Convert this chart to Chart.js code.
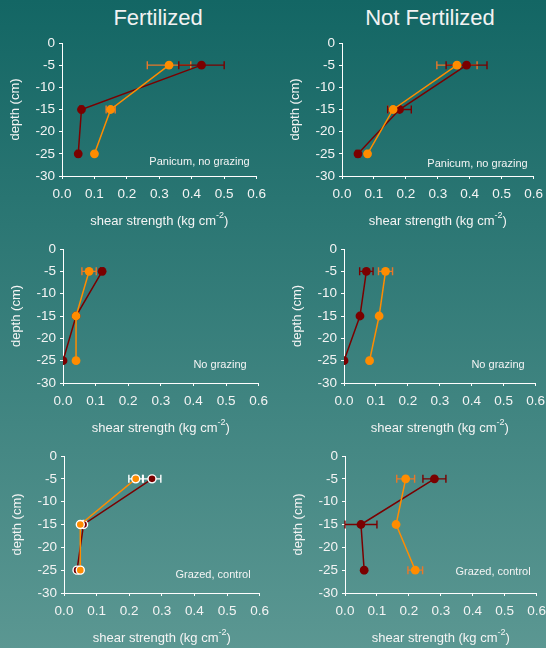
<!DOCTYPE html>
<html>
<head>
<meta charset="utf-8">
<script src="https://cdn.jsdelivr.net/npm/chart.js@4"></script>
<style>
html, body { margin: 0; padding: 0; }
body {
	width: 546px; height: 648px; overflow: hidden; position: relative;
	background: linear-gradient(#136664, #5b9792);
	font-family: 'Liberation Sans', Arial, sans-serif;
}
.col { position: absolute; top: 5px; font-size: 22px; color: #f2f2f2; transform: translateX(-50%); white-space: nowrap; }
canvas { position: absolute; }
</style>
</head>
<body>
<div class="col" style="left:158px">Fertilized</div>
<div class="col" style="left:430px">Not Fertilized</div>

<canvas id="c1"></canvas>
<canvas id="c2"></canvas>
<canvas id="c3"></canvas>
<canvas id="c4"></canvas>
<canvas id="c5"></canvas>
<canvas id="c6"></canvas>

<script>
// depth of each measurement (cm)
const depths = [-5, -15, -25];

// panel notes
const notes = ['Panicum, no grazing', 'Panicum, no grazing', 'No grazing', 'No grazing', 'Grazed, control', 'Grazed, control'];

// shear strength (kg cm-2) and error, per panel: dark red series and orange series
const p1Red = [0.43, 0.06, 0.05],     p1RedErr = [0.07, 0.005, 0.005];
const p1Orange = [0.33, 0.15, 0.10],  p1OrangeErr = [0.067, 0.014, 0];

const p2Red = [0.39, 0.18, 0.05],     p2RedErr = [0.064, 0.037, 0.006];
const p2Orange = [0.36, 0.16, 0.08],  p2OrangeErr = [0.063, 0.017, 0.004];

const p3Red = [0.12, 0.04, 0.0],      p3RedErr = [0.005, 0, 0];
const p3Orange = [0.08, 0.04, 0.04],  p3OrangeErr = [0.022, 0, 0];

const p4Red = [0.07, 0.05, 0.0],      p4RedErr = [0.021, 0.004, 0];
const p4Orange = [0.13, 0.11, 0.08],  p4OrangeErr = [0.022, 0, 0.004];

const p5Red = [0.27, 0.06, 0.04],     p5RedErr = [0.027, 0.005, 0.003];
const p5Orange = [0.22, 0.05, 0.05],  p5OrangeErr = [0.021, 0.004, 0.003];

const p6Red = [0.28, 0.05, 0.06],     p6RedErr = [0.036, 0.05, 0.003];
const p6Orange = [0.19, 0.16, 0.22],  p6OrangeErr = [0.028, 0, 0.023];

// where each plot area sits on the page
const boxes = [
	{ left: 62,  top: 43,  w: 195, h: 133, noteDx: 7,  noteDy: 14 },
	{ left: 342, top: 43,  w: 192, h: 133, noteDx: 6,  noteDy: 12 },
	{ left: 63,  top: 249, w: 196, h: 134, noteDx: 12, noteDy: 18 },
	{ left: 344, top: 249, w: 192, h: 134, noteDx: 11, noteDy: 18 },
	{ left: 64,  top: 456, w: 196, h: 137, noteDx: 9,  noteDy: 18 },
	{ left: 345, top: 456, w: 192, h: 137, noteDx: 6,  noteDy: 21 }
];

const RED = '#7a0000', ORANGE = '#ff8c00', ORANGE_ERR = '#e8782a', TEXT = '#f4f4f4';
const FONT = "'Liberation Sans', Arial, sans-serif";

const toPoints = vals => vals.map((v, i) => ({ x: v, y: depths[i] }));

// error bars, axis titles and note
const decor = {
	id: 'decor',
	beforeDatasetsDraw(chart) {
		const { ctx, scales: { x, y } } = chart;
		chart.data.datasets.forEach(ds => {
			ctx.save();
			ctx.strokeStyle = ds.errColor;
			ctx.lineWidth = 1.4;
			ds.data.forEach((p, i) => {
				const e = ds.errors[i];
				if (!e) return;
				const x0 = x.getPixelForValue(p.x - e),
					  x1 = x.getPixelForValue(p.x + e),
					  py = y.getPixelForValue(p.y);
				ctx.beginPath();
				ctx.moveTo(x0, py); ctx.lineTo(x1, py);
				ctx.moveTo(x0, py - 4); ctx.lineTo(x0, py + 4);
				ctx.moveTo(x1, py - 4); ctx.lineTo(x1, py + 4);
				ctx.stroke();
			});
			ctx.restore();
		});
	},
	afterDraw(chart, args, opts) {
		const { ctx, chartArea: a } = chart;
		ctx.save();
		ctx.fillStyle = TEXT;
		ctx.textBaseline = 'middle';

		// note
		ctx.font = '11px ' + FONT;
		ctx.textAlign = 'right';
		ctx.fillText(opts.note, a.right - opts.noteDx, a.bottom - opts.noteDy);

		// x title with superscript
		const main = 'shear strength (kg cm', sup = '-2', end = ')';
		ctx.font = '13px ' + FONT;
		const wMain = ctx.measureText(main).width, wEnd = ctx.measureText(end).width;
		ctx.font = '9px ' + FONT;
		const wSup = ctx.measureText(sup).width;
		let tx = (a.left + a.right) / 2 - (wMain + wSup + wEnd) / 2;
		const ty = a.bottom + 45;
		ctx.textAlign = 'left';
		ctx.font = '13px ' + FONT;
		ctx.fillText(main, tx, ty);
		ctx.font = '9px ' + FONT;
		ctx.fillText(sup, tx + wMain, ty - 5);
		ctx.font = '13px ' + FONT;
		ctx.fillText(end, tx + wMain + wSup, ty);

		// y title
		ctx.translate(a.left - 47, (a.top + a.bottom) / 2);
		ctx.rotate(-Math.PI / 2);
		ctx.textAlign = 'center';
		ctx.fillText('depth (cm)', 0, 0);
		ctx.restore();
	}
};

function makePanel(id, box, note, red, redErr, orange, orangeErr, whiteMarks) {
	const canvas = document.getElementById(id);
	canvas.width = box.w + 78;
	canvas.height = box.h + 73;
	canvas.style.left = (box.left - 62) + 'px';
	canvas.style.top = (box.top - 13) + 'px';

	new Chart(canvas, {
		type: 'scatter',
		data: {
			datasets: [
				{
					data: toPoints(orange), errors: orangeErr,
					errColor: whiteMarks ? '#ffffff' : ORANGE_ERR,
					showLine: true, borderColor: ORANGE, borderWidth: 1.5,
					pointRadius: whiteMarks ? 4 : 4.4, pointBackgroundColor: ORANGE,
					pointBorderColor: whiteMarks ? '#ffffff' : ORANGE, pointBorderWidth: whiteMarks ? 1.4 : 0
				},
				{
					data: toPoints(red), errors: redErr,
					errColor: whiteMarks ? '#ffffff' : RED,
					showLine: true, borderColor: RED, borderWidth: 1.5,
					pointRadius: whiteMarks ? 4 : 4.4, pointBackgroundColor: RED,
					pointBorderColor: whiteMarks ? '#ffffff' : RED, pointBorderWidth: whiteMarks ? 1.4 : 0
				}
			]
		},
		options: {
			responsive: false,
			animation: false,
			layout: { padding: { top: 13, right: 16, left: 0, bottom: 0 } },
			plugins: {
				legend: { display: false },
				tooltip: { enabled: false },
				decor: { note: note, noteDx: box.noteDx, noteDy: box.noteDy }
			},
			scales: {
				x: {
					type: 'linear', min: 0, max: 0.6,
					afterFit: s => { s.height = 60; },
					grid: { drawOnChartArea: false, drawTicks: true, tickLength: 3, color: '#ffffff' },
					border: { color: '#ffffff', width: 1 },
					ticks: {
						stepSize: 0.1, padding: 7, color: TEXT,
						font: { family: FONT, size: 13.5 },
						callback: v => v.toFixed(1)
					}
				},
				y: {
					type: 'linear', min: -30, max: 0,
					afterFit: s => { s.width = 62; },
					grid: { drawOnChartArea: false, drawTicks: true, tickLength: 3, color: '#ffffff' },
					border: { color: '#ffffff', width: 1 },
					ticks: {
						stepSize: 5, padding: 4, color: TEXT,
						font: { family: FONT, size: 13.5 },
						callback: v => String(v)
					}
				}
			}
		},
		plugins: [decor]
	});
}

makePanel('c1', boxes[0], notes[0], p1Red, p1RedErr, p1Orange, p1OrangeErr, false);
makePanel('c2', boxes[1], notes[1], p2Red, p2RedErr, p2Orange, p2OrangeErr, false);
makePanel('c3', boxes[2], notes[2], p3Red, p3RedErr, p3Orange, p3OrangeErr, false);
makePanel('c4', boxes[3], notes[3], p4Red, p4RedErr, p4Orange, p4OrangeErr, false);
makePanel('c5', boxes[4], notes[4], p5Red, p5RedErr, p5Orange, p5OrangeErr, true);
makePanel('c6', boxes[5], notes[5], p6Red, p6RedErr, p6Orange, p6OrangeErr, false);
</script>
</body>
</html>
